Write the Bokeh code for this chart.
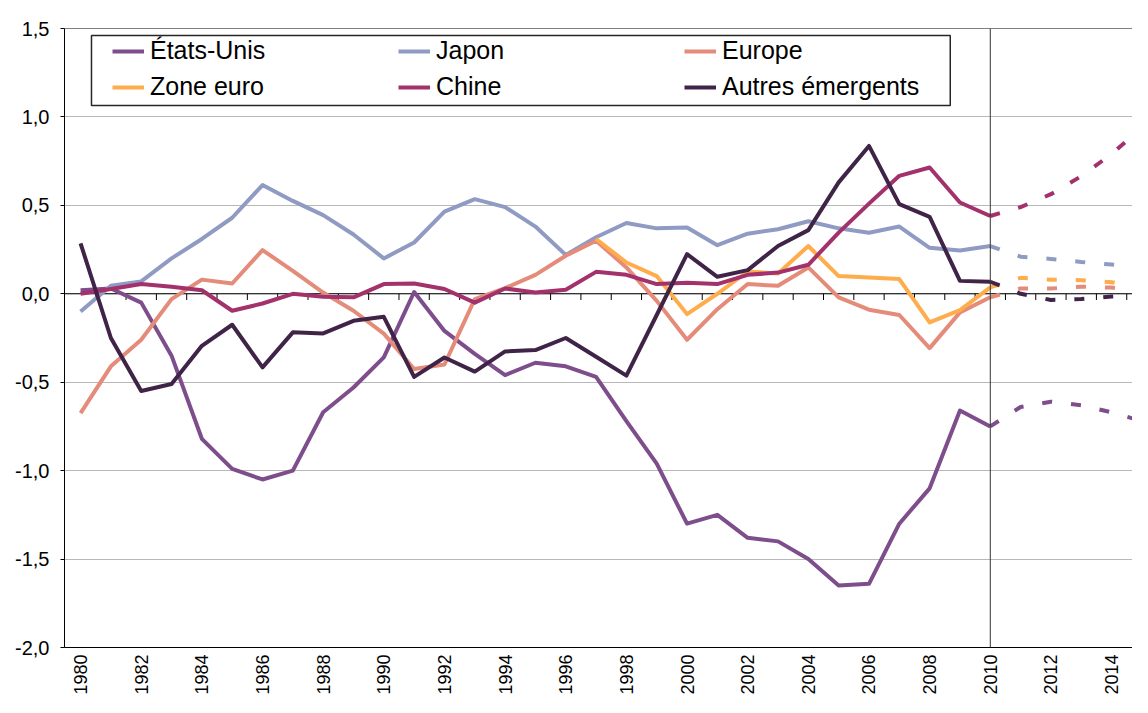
import math
from bokeh.plotting import figure
from bokeh.models import (Range1d, FixedTicker, CustomJSTickFormatter, Span,
                          Legend, LegendItem, BoxAnnotation)
from bokeh.embed import file_html
from bokeh.resources import INLINE

# ---------------- data ----------------
years = list(range(1980, 2011))
zone_years = list(range(1997, 2011))
proj_years = [2011, 2012, 2013, 2014, 2015]

etats_unis = [0.02, 0.03, -0.05, -0.35, -0.82, -0.99, -1.05, -1.00, -0.67, -0.53,
              -0.36, 0.01, -0.21, -0.34, -0.46, -0.39, -0.41, -0.47, -0.72, -0.96,
              -1.30, -1.25, -1.38, -1.40, -1.50, -1.65, -1.64, -1.30, -1.10, -0.66,
              -0.75]
etats_unis_proj = [-0.64, -0.61, -0.63, -0.67, -0.72]

japon = [-0.10, 0.045, 0.07, 0.20, 0.31, 0.43, 0.615, 0.525, 0.445, 0.335,
         0.20, 0.29, 0.465, 0.535, 0.49, 0.38, 0.22, 0.32, 0.40, 0.37,
         0.375, 0.275, 0.34, 0.365, 0.41, 0.37, 0.345, 0.38, 0.26, 0.245,
         0.27]
japon_proj = [0.21, 0.197, 0.18, 0.165, 0.15]

europe = [-0.675, -0.41, -0.26, -0.03, 0.08, 0.058, 0.247, 0.13, 0.007, -0.096,
          -0.225, -0.425, -0.40, -0.03, 0.032, 0.107, 0.215, 0.30, 0.149, -0.04,
          -0.26, -0.087, 0.055, 0.045, 0.149, -0.02, -0.09, -0.12, -0.307, -0.105,
          -0.02]
europe_proj = [0.03, 0.03, 0.04, 0.035, 0.02]

zone_euro = [0.31, 0.177, 0.10, -0.115, 0.0, 0.126, 0.115, 0.27, 0.10, 0.092,
             0.083, -0.162, -0.092, 0.036]
zone_euro_proj = [0.09, 0.08, 0.077, 0.065, 0.035]

chine = [0.0, 0.027, 0.055, 0.04, 0.02, -0.096, -0.055, 0.0, -0.017, -0.02,
         0.055, 0.058, 0.027, -0.05, 0.03, 0.007, 0.023, 0.124, 0.107, 0.055,
         0.062, 0.055, 0.107, 0.12, 0.164, 0.346, 0.51, 0.667, 0.714, 0.516,
         0.44]
chine_proj = [0.49, 0.563, 0.665, 0.79, 0.94]

autres = [0.285, -0.25, -0.55, -0.51, -0.294, -0.175, -0.416, -0.218, -0.224, -0.153,
          -0.13, -0.47, -0.36, -0.44, -0.326, -0.318, -0.25, -0.356, -0.463, -0.12,
          0.224, 0.096, 0.134, 0.27, 0.36, 0.63, 0.836, 0.507, 0.435, 0.073,
          0.068]
autres_proj = [0.0, -0.035, -0.03, -0.015, -0.01]

y_ticks = [-2.0, -1.5, -1.0, -0.5, 0.0, 0.5, 1.0, 1.5]
x_label_years = list(range(1980, 2015, 2))
split_year = 2010

series = [
    ("États-Unis", years, etats_unis, etats_unis_proj, "#7e4e8c"),
    ("Japon", years, japon, japon_proj, "#8f9bc3"),
    ("Europe", years, europe, europe_proj, "#e58b7a"),
    ("Zone euro", zone_years, zone_euro, zone_euro_proj, "#ffac4d"),
    ("Chine", years, chine, chine_proj, "#a3316b"),
    ("Autres émergents", years, autres, autres_proj, "#402448"),
]

FONT = "Liberation Sans"

# ---------------- figure ----------------
p = figure(width=1132, height=697, output_backend="svg", toolbar_location=None,
           x_range=Range1d(1979.47, 2014.69), y_range=Range1d(-2.0, 1.5),
           min_border_left=64, min_border_right=0, min_border_top=28,
           min_border_bottom=49)
p.outline_line_color = None
p.background_fill_color = "white"
p.border_fill_color = "white"

# axes
yax = p.yaxis[0]
yax.ticker = FixedTicker(ticks=y_ticks)
yax.formatter = CustomJSTickFormatter(code="return tick.toFixed(1).replace('.', ',');")
yax.axis_line_color = "black"
yax.major_tick_line_color = "black"
yax.major_tick_out = 4
yax.major_tick_in = 0
yax.minor_tick_line_color = None
yax.major_label_text_font = FONT
yax.major_label_text_font_size = "20px"
yax.major_label_text_color = "black"
yax.major_label_standoff = 11

xax = p.xaxis[0]
xax.ticker = FixedTicker(ticks=x_label_years)
xax.axis_line_color = "black"
xax.major_tick_line_color = None
xax.minor_tick_line_color = None
xax.major_tick_out = 0
xax.major_tick_in = 0
xax.major_label_orientation = math.pi / 2
xax.major_label_text_font = FONT
xax.major_label_text_font_size = "18px"
xax.major_label_text_color = "black"
xax.major_label_standoff = 7

p.xgrid.visible = False
p.ygrid.ticker = FixedTicker(ticks=y_ticks)
p.ygrid.grid_line_color = "#b8b8b8"
p.ygrid.grid_line_width = 1

# top border
p.add_layout(Span(location=1.5, dimension="width", line_color="black", line_width=1))
# zero axis line with category ticks
p.add_layout(Span(location=0, dimension="width", line_color="black", line_width=1,
                  level="underlay"))
bounds = [y + 0.5 for y in range(1980, 2015)]
p.segment(x0=bounds, y0=[0] * len(bounds), x1=bounds, y1=[-0.035] * len(bounds),
          line_color="black", line_width=1)

# series
renderers = {}
for name, xs, ys, proj, color in series:
    r = p.line(xs, ys, line_color=color, line_width=4, line_join="round")
    p.line([split_year] + proj_years, [ys[-1]] + proj, line_color=color,
           line_width=4, line_dash="10 19", line_cap="butt")
    renderers[name] = r

# vertical separator at 2010
p.add_layout(Span(location=split_year, dimension="height", line_color="#333333",
                  line_width=1))

# legend box
p.add_layout(BoxAnnotation(left=1980.36, right=2008.68, top=1.4605, bottom=1.0653,
                           fill_color="white", fill_alpha=1, line_color="black",
                           line_width=1.5, line_alpha=0.85))

columns = [["États-Unis", "Zone euro"], ["Japon", "Chine"],
           ["Europe", "Autres émergents"]]
col_x = [48, 334, 620]
for names, vx in zip(columns, col_x):
    lg = Legend(items=[LegendItem(label=n, renderers=[renderers[n]]) for n in names],
                location=(vx, 546), orientation="vertical", padding=0, margin=0,
                spacing=7, glyph_width=32, glyph_height=28, label_height=28,
                label_standoff=6, label_text_font=FONT, label_text_font_size="25px",
                label_text_color="black", border_line_alpha=0,
                background_fill_alpha=0)
    p.add_layout(lg, "center")

open("out.html", "w").write(file_html(p, INLINE))
